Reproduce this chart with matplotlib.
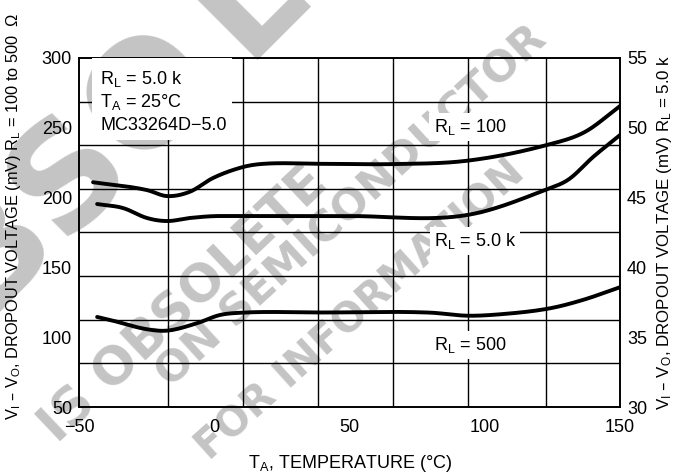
import numpy as np
import matplotlib
matplotlib.use('Agg')
import matplotlib.pyplot as plt
from matplotlib.patches import Rectangle

plt.rcParams['font.family'] = ['Liberation Sans Narrow', 'Liberation Sans', 'DejaVu Sans']
plt.rcParams['mathtext.default'] = 'regular'

# data (temperature in degC, dropout in mV)
t_100 = [-44.8, -24.9, -17.5, -9.0, -0.5, 10.6, 16.9, 40.0, 66.1, 93.4, 123.0, 137.0, 150.0]
v_100 = [211.0, 205.4, 201.1, 204.2, 214.0, 221.9, 224.0, 224.2, 224.0, 226.4, 237.7, 247.0, 265.6]

t_500 = [-43.3, -37.4, -24.9, -17.5, -6.4, 2.1, 10.6, 40.0, 79.8, 93.4, 105.6, 124.1, 136.3, 150.0]
v_500 = [114.5, 111.8, 105.7, 104.7, 110.0, 115.9, 117.6, 117.7, 117.6, 115.4, 116.4, 120.7, 126.7, 135.8]

# RL = 5.0 k is read on the right hand scale
t_5k = [-43.3, -33.7, -24.9, -17.5, -9.0, 2.1, 50.2, 93.4, 123.0, 131.0, 140.0, 150.0]
v_5k = [44.54, 44.25, 43.54, 43.32, 43.54, 43.68, 43.68, 43.75, 45.6, 46.3, 47.9, 49.48]

x_ticks = [-50, 0, 50, 100, 150]
left_ticks = [50, 100, 150, 200, 250, 300]
right_ticks = [30, 35, 40, 45, 50, 55]
x_grid = [-17.1, 10.6, 38.4, 66.1, 93.8, 122.6]


def smooth(xs, ys, n=300):
    # cubic hermite through the read points (for a hand drawn look)
    xs = np.asarray(xs, float); ys = np.asarray(ys, float)
    h = np.diff(xs); d = np.diff(ys) / h
    m = np.zeros_like(ys)
    m[1:-1] = (d[:-1] + d[1:]) / 2
    m[0] = d[0]; m[-1] = d[-1]
    for i in range(len(d)):
        if d[i] == 0:
            m[i] = m[i + 1] = 0
    xx = np.linspace(xs[0], xs[-1], n)
    idx = np.clip(np.searchsorted(xs, xx) - 1, 0, len(h) - 1)
    s = (xx - xs[idx]) / h[idx]
    h00 = 2*s**3 - 3*s**2 + 1; h10 = s**3 - 2*s**2 + s
    h01 = -2*s**3 + 3*s**2; h11 = s**3 - s**2
    yy = h00*ys[idx] + h10*h[idx]*m[idx] + h01*ys[idx+1] + h11*h[idx]*m[idx+1]
    return xx, yy


fig = plt.figure(figsize=(6.89, 4.76), dpi=100)

# watermark behind the chart
wm = dict(color='#c4c4c4', fontweight='bold', family='DejaVu Sans',
          va='baseline', rotation_mode='anchor', zorder=-5)
fig.text(330/689, 1 - 186/476, 'IS OBSOLETE', rotation=43.5, fontsize=37, ha='right', **wm)
fig.text(549/689, 1 - 42/476, 'ON SEMICONDUCTOR', rotation=42.5, fontsize=31, ha='right', **wm)
fig.text(527/689, 1 - 176/476, 'FOR INFORMATION', rotation=42, fontsize=29, ha='right', **wm)
# huge letters running off the top left corner
fig.text(225/689, 1 - 80/476, 'OBSO', rotation=45, fontsize=105, ha='right', **wm)
fig.text(245/689, 1 - 60/476, 'LETE', rotation=45, fontsize=105, ha='left', **wm)

ax = fig.add_axes([79/689, 1 - 407/476, 541/689, 349/476])
ax.set_facecolor('none')
ax.set_xlim(-50, 150)
ax.set_ylim(50, 300)

for xg in x_grid:
    ax.axvline(xg, color='black', lw=1.0, zorder=1)
for yg in np.linspace(50, 300, 9)[1:-1]:
    ax.axhline(yg, color='black', lw=1.0, zorder=1)

ax.set_xticks(x_ticks)
ax.set_yticks(left_ticks)
ax.tick_params(length=0, labelsize=13)
ax.tick_params(axis='x', pad=9)
ax.tick_params(axis='y', pad=5)
ax.set_xticklabels(['\u221250', '0', '50', '100', '150'])
for sp in ax.spines.values():
    sp.set_linewidth(1.2)

xx, yy = smooth(t_100, v_100)
ax.plot(xx, yy, color='black', lw=2.8, zorder=4, solid_capstyle='round')
xx, yy = smooth(t_500, v_500)
ax.plot(xx, yy, color='black', lw=2.8, zorder=4, solid_capstyle='round')

ax2 = ax.twinx()
ax2.set_ylim(30, 55)
ax2.set_yticks(right_ticks)
ax2.tick_params(length=0, labelsize=13, pad=5)
for sp in ax2.spines.values():
    sp.set_linewidth(1.2)
xx, yy = smooth(t_5k, v_5k)
ax2.plot(xx, yy, color='black', lw=2.8, zorder=4, solid_capstyle='round')

# conditions box at upper left
ax2.add_patch(Rectangle((13/541, 1 - 82/349), 140/541, 82/349, transform=ax2.transAxes,
                        facecolor='white', edgecolor='none', zorder=3))
for i, s in enumerate(['R$_L$ = 5.0 k', 'T$_A$ = 25\u00b0C', 'MC33264D\u22125.0']):
    ax2.text(21/541, 1 - (21 + 23.5*i)/349, s, transform=ax2.transAxes,
             fontsize=13, ha='left', va='center', zorder=5)

box = dict(facecolor='white', edgecolor='none', pad=3)
ax.text(94.5, 250.5, 'R$_L$ = 100', fontsize=13, ha='center', va='center', bbox=box, zorder=5)
ax.text(96.4, 168.9, 'R$_L$ = 5.0 k', fontsize=13, ha='center', va='center', bbox=box, zorder=5)
ax.text(94.5, 94.4, 'R$_L$ = 500', fontsize=13, ha='center', va='center', bbox=box, zorder=5)

fig.text(350/689, 1 - 463/476, 'T$_A$, TEMPERATURE (\u00b0C)', fontsize=13, ha='center', va='center')
fig.text(14/689, 1 - 216/476, 'V$_I$ \u2013 V$_O$, DROPOUT VOLTAGE (mV) R$_L$ = 100 to 500  \u03a9',
         fontsize=11.8, rotation=90, ha='center', va='center')
fig.text(665/689, 1 - 232/476, 'V$_I$ \u2013 V$_O$, DROPOUT VOLTAGE (mV) R$_L$ = 5.0 k',
         fontsize=12.2, rotation=90, ha='center', va='center')

fig.savefig('out.png', dpi=100)
